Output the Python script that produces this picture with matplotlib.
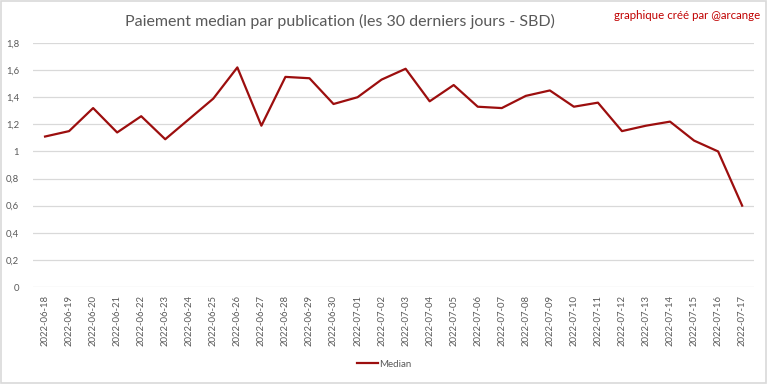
import matplotlib.pyplot as plt

# Median payout per post, last 30 days (SBD)
dates = [
    "2022-06-18", "2022-06-19", "2022-06-20", "2022-06-21", "2022-06-22",
    "2022-06-23", "2022-06-24", "2022-06-25", "2022-06-26", "2022-06-27",
    "2022-06-28", "2022-06-29", "2022-06-30", "2022-07-01", "2022-07-02",
    "2022-07-03", "2022-07-04", "2022-07-05", "2022-07-06", "2022-07-07",
    "2022-07-08", "2022-07-09", "2022-07-10", "2022-07-11", "2022-07-12",
    "2022-07-13", "2022-07-14", "2022-07-15", "2022-07-16", "2022-07-17",
]
median = [
    1.11, 1.15, 1.32, 1.14, 1.26, 1.09, 1.24, 1.39, 1.62, 1.19,
    1.55, 1.54, 1.35, 1.40, 1.53, 1.61, 1.37, 1.49, 1.33, 1.32,
    1.41, 1.45, 1.33, 1.36, 1.15, 1.19, 1.22, 1.08, 1.00, 0.60,
]
y_ticks = [0, 0.2, 0.4, 0.6, 0.8, 1.0, 1.2, 1.4, 1.6, 1.8]
y_labels = ["0", "0,2", "0,4", "0,6", "0,8", "1", "1,2", "1,4", "1,6", "1,8"]

plt.rcParams["font.family"] = ["Lato", "DejaVu Sans"]

fig = plt.figure(figsize=(7.68, 3.84), dpi=100)
ax = fig.add_axes([0.043, 0.2526, 0.939, 0.6354])

x = list(range(len(dates)))
ax.plot(x, median, color="#9C0E0E", linewidth=1.6, label="Median")

# Excel-like styling: no spines, light horizontal gridlines
ax.set_xlim(-0.5, len(dates) - 0.5)
ax.set_ylim(0, 1.8)
ax.set_yticks(y_ticks)
ax.set_yticklabels(y_labels)
ax.set_xticks(x)
ax.set_xticklabels(dates, rotation=90)
ax.grid(axis="y", color="#D9D9D9", linewidth=0.9)
ax.set_axisbelow(True)
for s in ax.spines.values():
    s.set_visible(False)
ax.tick_params(axis="both", length=0, labelsize=6.8, colors="#595959")
ax.tick_params(axis="y", pad=10)
ax.tick_params(axis="x", pad=6)

fig.text(0.442, 0.945, "Paiement median par publication (les 30 derniers jours - SBD)",
         ha="center", va="center", fontsize=11.5, color="#595959")
fig.text(0.99, 0.96, "graphique créé par @arcange", ha="right", va="center",
         fontsize=8.3, color="#C00000")

fig.legend(loc="center", bbox_to_anchor=(0.5, 0.052), frameon=False,
           fontsize=7, labelcolor="#595959", handlelength=2.2, handletextpad=0.1)

# light grey outer frame
fig.patches.append(plt.Rectangle((0.001, 0.002), 0.997, 0.995, transform=fig.transFigure,
                                 fill=False, edgecolor="#D9D9D9", linewidth=1.2))

plt.savefig("out.png", dpi=100)
